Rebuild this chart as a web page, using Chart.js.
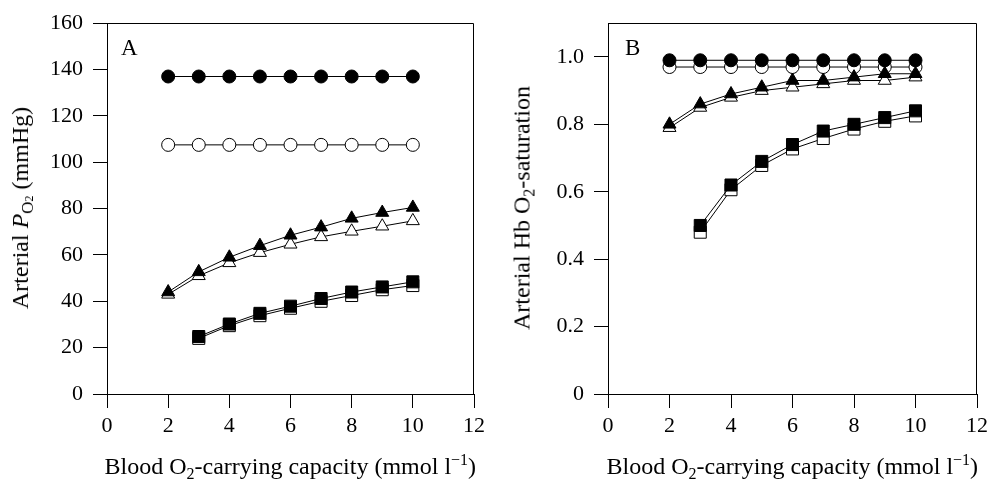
<!DOCTYPE html>
<html>
<head>
<meta charset="utf-8">
<script src="https://cdn.jsdelivr.net/npm/chart.js@4/dist/chart.umd.min.js"></script>
<style>
  body { margin: 0; background: #fff; width: 993px; height: 479px; overflow: hidden; position: relative; font-family: "Liberation Serif", serif; color: #000; }
  .panel { position: absolute; top: 0; height: 479px; }
  .txt { position: absolute; font-size: 24px; line-height: 24px; white-space: nowrap; }
  .lbl { position: absolute; font-size: 23px; line-height: 23px; }
  .sub { position: relative; font-size: 16px; top: 5px; }
  .sup { position: relative; font-size: 16px; top: -9px; }
  .rot { transform: translate(-50%, -50%) rotate(-90deg); }
</style>
</head>
<body>
<div class="panel" id="wrapA" style="left:0;width:490px"><canvas id="chartA"></canvas></div>
<div class="panel" id="wrapB" style="left:490px;width:503px"><canvas id="chartB"></canvas></div>

<div class="lbl" style="left:121px;top:36px">A</div>
<div class="lbl" style="left:625px;top:36px">B</div>

<div class="txt rot" style="left:22px;top:208px">Arterial <i>P</i><span class="sub" style="font-size:17px">O<span style="font-size:12px">2</span></span> (mmHg)</div>
<div class="txt rot" style="left:523px;top:208px">Arterial Hb O<span class="sub">2</span>-saturation</div>

<div class="txt" id="xtA" style="top:454px">Blood O<span class="sub">2</span>-carrying capacity (mmol l<span class="sup">&minus;1</span>)</div>
<div class="txt" id="xtB" style="top:454px">Blood O<span class="sub">2</span>-carrying capacity (mmol l<span class="sup">&minus;1</span>)</div>

<script>
// Capacidade de transporte de O2 (mmol l-1)
const capFull = [2, 3, 4, 5, 6, 7, 8, 9, 10];
const capSq = [3, 4, 5, 6, 7, 8, 9, 10];

// Painel A - PO2 arterial (mmHg)
const aCircleFilled = [137, 137, 137, 137, 137, 137, 137, 137, 137];
const aCircleOpen = [107.5, 107.5, 107.5, 107.5, 107.5, 107.5, 107.5, 107.5, 107.5];
const aTriFilled = [44, 52.7, 59, 64, 68.5, 72, 75.8, 78.3, 80.5];
const aTriOpen = [43, 51, 56.6, 61, 64.6, 67.8, 70.2, 72.4, 74.7];
const aSqFilled = [24.8, 30.2, 34.8, 37.9, 41.2, 44, 46.2, 48.4];
const aSqOpen = [24, 29.5, 33.8, 37, 40, 42.5, 45, 46.8];

// Painel B - saturacao de O2 da Hb arterial
const bCircleFilled = [0.99, 0.99, 0.99, 0.99, 0.99, 0.99, 0.99, 0.99, 0.99];
const bCircleOpen = [0.97, 0.97, 0.97, 0.97, 0.97, 0.97, 0.97, 0.97, 0.97];
const bTriFilled = [0.80, 0.86, 0.89, 0.91, 0.93, 0.93, 0.94, 0.95, 0.95];
const bTriOpen = [0.79, 0.85, 0.88, 0.90, 0.91, 0.92, 0.93, 0.93, 0.94];
const bSqFilled = [0.50, 0.62, 0.69, 0.74, 0.78, 0.80, 0.82, 0.84];
const bSqOpen = [0.48, 0.606, 0.678, 0.727, 0.758, 0.786, 0.809, 0.825];

const xTicks = { min: 0, max: 12, step: 2 };

const pts = (xs, ys) => xs.map((x, i) => ({ x: x, y: ys[i] }));

function serie(xs, ys, estilo, cheio) {
  const raio = estilo === 'circle' ? 6.5 : (estilo === 'triangle' ? 7.5 : 8.5);
  return {
    data: pts(xs, ys),
    pointStyle: estilo,
    pointRadius: raio,
    pointHoverRadius: raio,
    pointBackgroundColor: cheio ? '#000' : '#fff',
    pointBorderColor: '#000',
    pointBorderWidth: 1,
    borderColor: '#000',
    borderWidth: 1,
    showLine: true,
    order: cheio ? 0 : 1
  };
}

// Moldura (topo e direita)
const moldura = {
  id: 'moldura',
  afterDraw(chart) {
    const a = chart.chartArea;
    const ctx = chart.ctx;
    ctx.save();
    ctx.strokeStyle = '#000';
    ctx.lineWidth = 1;
    ctx.beginPath();
    const l = Math.round(a.left) + 0.5, r = Math.round(a.right) - 0.5, t = Math.round(a.top) + 0.5;
    ctx.moveTo(l, t);
    ctx.lineTo(r, t);
    ctx.lineTo(r, Math.round(a.bottom));
    ctx.stroke();
    ctx.restore();
  }
};

const fonte = { family: 'Liberation Serif', size: 22 };

function criaGrafico(id, datasets, yOpts, yWidth) {
  return new Chart(document.getElementById(id), {
    type: 'scatter',
    data: { datasets: datasets },
    options: {
      responsive: true,
      maintainAspectRatio: false,
      animation: false,
      layout: { padding: { top: 22, right: 12, left: 0, bottom: 0 }, autoPadding: false },
      plugins: { legend: { display: false }, tooltip: { enabled: false } },
      scales: {
        x: {
          type: 'linear',
          min: xTicks.min, max: xTicks.max,
          ticks: { stepSize: xTicks.step, color: '#000', font: fonte, padding: 5, maxRotation: 0 },
          grid: { drawOnChartArea: false, drawTicks: true, tickLength: 14, color: '#000', lineWidth: 1 },
          border: { color: '#000', width: 1 },
          afterFit: s => { s.height = 85; }
        },
        y: Object.assign({
          type: 'linear',
          grid: { drawOnChartArea: false, drawTicks: true, tickLength: 14, color: '#000', lineWidth: 1 },
          border: { color: '#000', width: 1 },
          afterFit: s => { s.width = yWidth; }
        }, yOpts)
      }
    },
    plugins: [moldura]
  });
}

const chartA = criaGrafico('chartA', [
  serie(capFull, aCircleFilled, 'circle', true),
  serie(capFull, aCircleOpen, 'circle', false),
  serie(capFull, aTriFilled, 'triangle', true),
  serie(capFull, aTriOpen, 'triangle', false),
  serie(capSq, aSqFilled, 'rect', true),
  serie(capSq, aSqOpen, 'rect', false)
], {
  min: 0, max: 160,
  ticks: { stepSize: 20, color: '#000', font: fonte, padding: 10 }
}, 107);

const chartB = criaGrafico('chartB', [
  serie(capFull, bCircleFilled, 'circle', true),
  serie(capFull, bCircleOpen, 'circle', false),
  serie(capFull, bTriFilled, 'triangle', true),
  serie(capFull, bTriOpen, 'triangle', false),
  serie(capSq, bSqFilled, 'rect', true),
  serie(capSq, bSqOpen, 'rect', false)
], {
  min: 0, max: 1.1,
  afterBuildTicks: s => { s.ticks = s.ticks.filter(t => t.value <= 1.0001); },
  ticks: {
    stepSize: 0.2, color: '#000', font: fonte, padding: 10,
    callback: v => (v === 0 ? '0' : v.toFixed(1))
  }
}, 118);

// Centraliza os titulos do eixo x na area do grafico
function centraTitulo(el, chart, offset) {
  const a = chart.chartArea;
  const mid = offset + (a.left + a.right) / 2;
  el.style.left = (mid - el.offsetWidth / 2) + 'px';
}
centraTitulo(document.getElementById('xtA'), chartA, 0);
centraTitulo(document.getElementById('xtB'), chartB, 490);
</script>
</body>
</html>
